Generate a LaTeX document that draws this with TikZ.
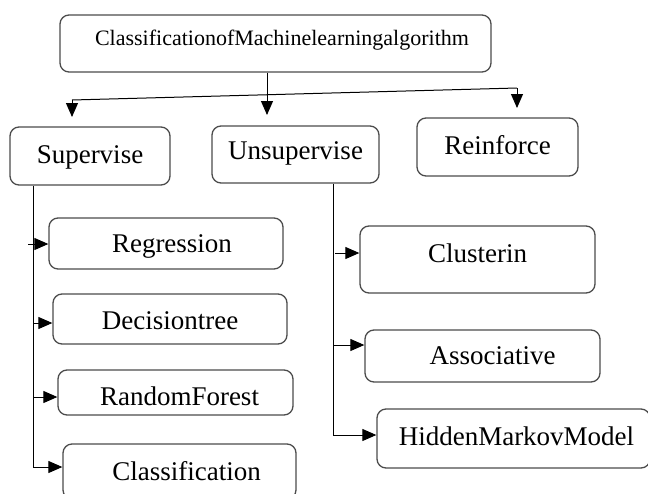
\documentclass[tikz,border=0pt]{standalone}
\usepackage{fontspec}
\setmainfont{Liberation Serif}
\usetikzlibrary{arrows.meta}
\begin{document}
\begin{tikzpicture}[x=1pt,y=-1pt,
  box/.style={draw=black!70, line width=1.3pt, rounded corners=9pt, inner sep=0pt,
    text height=17.7pt, text depth=0pt, font=\fontsize{27}{29}\selectfont},
  arr/.style={line width=1pt, -{Triangle[length=14pt,width=12pt]}},
  ln/.style={line width=1pt}]
\useasboundingbox (0,0) rectangle (648,493);
% boxes
\node[box, minimum width=431pt, minimum height=57pt, text height=14.4pt,
  font={\fontsize{22}{24}\selectfont}] (title) at (275.5,43.5)
  {\hspace*{13pt}\raisebox{5pt}{ClassificationofMachinelearningalgorithm}};
\node[box, minimum width=160pt, minimum height=58pt] (sup) at (90,156) {\raisebox{1pt}{Supervise}};
\node[box, minimum width=167pt, minimum height=57pt] (uns) at (295.5,154.5) {\raisebox{3.5pt}{Unsupervise}};
\node[box, minimum width=161pt, minimum height=58pt] (rei) at (497.5,147) {\raisebox{1.5pt}{Reinforce}};
\node[box, minimum width=234pt, minimum height=51pt] (reg) at (166,243.5) {\hspace*{12pt}Regression};
\node[box, minimum width=234pt, minimum height=50pt] (dec) at (170,319) {\raisebox{-1.5pt}{Decisiontree}};
\node[box, minimum width=235pt, minimum height=45pt] (rf) at (175.5,392.5) {\hspace*{8pt}\raisebox{-4pt}{RandomForest}};
\node[box, minimum width=233pt, minimum height=55pt] (cla) at (179.5,471.5) {\hspace*{14pt}Classification};
\node[box, minimum width=235pt, minimum height=67pt] (clu) at (477.5,259.5) {\raisebox{5.5pt}{Clusterin}};
\node[box, minimum width=235pt, minimum height=52pt] (ass) at (482.5,356) {\hspace*{20pt}Associative};
\node[box, minimum width=273pt, minimum height=59pt] (hmm) at (513.5,438.5) {\hspace*{6pt}\raisebox{2pt}{HiddenMarkovModel}};
% top connectors
\coordinate (tipM) at (267,115);
\coordinate (jL) at (72,100);
\coordinate (jR) at (517,88);
\coordinate (tipL) at (72,117);
\coordinate (tipR) at (517,108);
\draw[arr] (title.south -| tipM) -- (tipM);
\draw[ln] (jL) -- (jR);
\draw[arr] (jL) -- (tipL);
\draw[arr] (jR) -- (tipR);
% supervise branch
\coordinate (supEnd) at (33,467);
\draw[ln] (sup.south -| supEnd) -- (supEnd);
\coordinate (s1) at (28,244);
\coordinate (s2) at (33,323);
\coordinate (s3) at (33,397);
\draw[arr] (s1) -- (s1 -| reg.west);
\draw[arr] (s2) -- (s2 -| dec.west);
\draw[arr] (s3) -- (s3 -| rf.west);
\draw[arr] (supEnd) -- (supEnd -| cla.west);
% unsupervise branch
\coordinate (unsEnd) at (333,435);
\draw[ln] (uns.south -| unsEnd) -- (unsEnd);
\coordinate (u1) at (335,253);
\coordinate (u2) at (333,345);
\draw[arr] (u1) -- (u1 -| clu.west);
\draw[arr] (u2) -- (u2 -| ass.west);
\draw[arr] (unsEnd) -- (unsEnd -| hmm.west);
\end{tikzpicture}
\end{document}
